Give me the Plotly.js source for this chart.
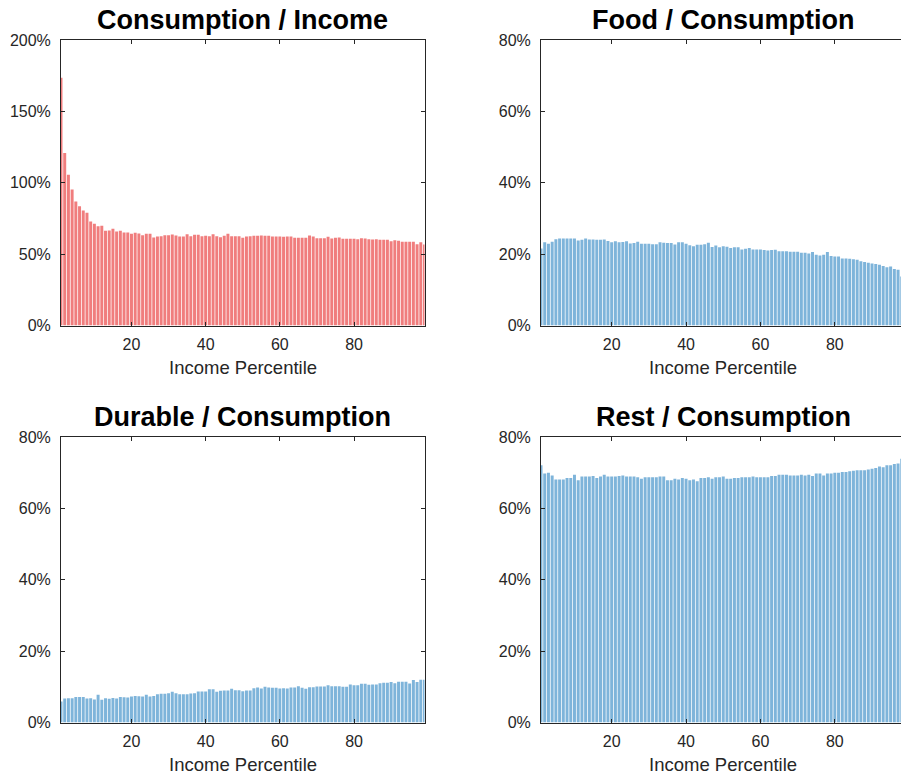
<!DOCTYPE html>
<html>
<head>
<meta charset="utf-8">
<script src="https://cdn.plot.ly/plotly-3.0.1.min.js"></script>
<style>
  html, body { margin: 0; padding: 0; overflow: hidden; background: #fff; }
  #chart { width: 910px; height: 776px; }
</style>
</head>
<body>
<div id="chart"></div>
<script>
// Income percentiles 1..99
const percentiles = Array.from({length: 99}, (_, i) => i + 1);

// Consumption as a share of income (%)
const consumptionIncome = [173.5, 120.8, 105.6, 95.3, 86.9, 83.6, 80.6, 79.0, 72.9, 71.2,
  69.6, 69.8, 66.3, 66.6, 67.7, 65.9, 66.3, 65.2, 65.2, 64.2,
  64.9, 64.5, 63.3, 64.2, 64.2, 61.7, 62.4, 62.6, 63.3, 63.3,
  63.8, 63.1, 62.4, 62.4, 64.0, 62.6, 63.5, 63.5, 62.6, 62.8,
  62.6, 64.0, 62.6, 61.9, 62.8, 64.2, 62.6, 62.6, 62.6, 61.4,
  62.4, 62.6, 62.8, 62.8, 63.1, 62.8, 62.8, 62.4, 62.4, 62.4,
  62.1, 62.4, 62.4, 61.4, 61.4, 61.4, 61.4, 63.1, 62.4, 61.2,
  61.2, 61.2, 62.1, 60.9, 61.4, 61.7, 60.7, 60.7, 60.7, 60.7,
  60.5, 61.2, 60.9, 60.5, 60.2, 60.5, 60.0, 60.0, 60.0, 59.1,
  59.8, 59.3, 58.6, 58.6, 58.6, 58.6, 57.0, 58.4, 56.8];

// Food as a share of consumption (%)
const foodConsumption = [21.6, 23.3, 22.9, 23.5, 24.2, 24.4, 24.4, 24.4, 24.4, 24.4,
  23.8, 24.0, 24.4, 24.1, 24.1, 24.05, 24.05, 24.1, 23.7, 23.3,
  23.6, 23.3, 23.4, 23.6, 23.0, 23.1, 23.5, 22.9, 22.9, 22.9,
  22.8, 22.8, 23.3, 23.2, 23.1, 23.1, 22.7, 23.3, 23.3, 22.9,
  22.5, 22.2, 22.65, 22.65, 22.8, 23.2, 22.0, 22.4, 21.9, 22.2,
  22.1, 21.7, 21.9, 21.9, 21.3, 21.5, 21.7, 21.3, 21.3, 21.3,
  21.15, 21.0, 21.15, 21.2, 20.8, 20.8, 20.8, 20.7, 20.7, 20.7,
  20.4, 20.4, 20.2, 20.6, 19.85, 19.6, 19.85, 20.6, 19.5, 19.3,
  19.3, 18.8, 18.8, 18.7, 18.55, 18.4, 18.0, 17.8, 17.6, 17.4,
  17.2, 17.05, 16.7, 16.3, 16.5, 15.8, 15.6, 13.7, 13.5];

// Durable goods as a share of consumption (%)
const durableConsumption = [5.87, 6.71, 6.81, 6.81, 7.18, 7.18, 7.18, 6.71, 6.81, 6.43,
  7.75, 6.34, 6.81, 6.62, 6.9, 6.71, 7.18, 7.09, 7.0, 7.28,
  7.46, 7.37, 7.28, 7.75, 7.28, 7.46, 7.93, 8.03, 8.03, 8.22,
  8.59, 8.22, 7.93, 7.93, 7.93, 8.12, 8.22, 8.69, 8.69, 8.69,
  9.34, 9.34, 8.59, 8.87, 8.97, 8.97, 9.44, 9.06, 9.06, 8.78,
  8.97, 8.97, 9.62, 9.81, 9.53, 10.0, 9.81, 9.72, 9.72, 9.53,
  9.62, 9.53, 9.81, 9.81, 10.19, 9.72, 9.44, 9.91, 9.91, 10.09,
  10.09, 10.09, 10.47, 10.19, 10.19, 10.19, 10.0, 10.0, 10.66, 10.47,
  10.47, 10.85, 10.85, 10.56, 10.66, 10.66, 11.03, 11.13, 11.13, 11.32,
  11.03, 11.41, 11.41, 11.41, 10.94, 11.88, 11.32, 11.97, 12.0];

// Everything else as a share of consumption (%)
const restConsumption = [72.05, 69.8, 70.0, 69.2, 68.1, 68.1, 68.1, 68.5, 68.5, 69.4,
  67.9, 68.9, 68.9, 68.9, 69.05, 68.5, 68.9, 69.4, 68.9, 68.9,
  68.9, 69.05, 69.2, 68.9, 68.9, 68.9, 68.7, 68.3, 68.7, 68.7,
  68.7, 68.7, 68.9, 68.9, 67.9, 67.9, 68.3, 68.1, 68.5, 68.3,
  67.9, 68.1, 67.6, 68.5, 68.5, 68.7, 68.3, 68.7, 68.7, 68.9,
  68.3, 68.3, 68.5, 68.5, 68.7, 68.7, 68.7, 68.9, 68.7, 68.7,
  68.7, 68.7, 69.05, 69.05, 69.4, 69.4, 69.4, 69.2, 69.2, 69.2,
  69.4, 69.2, 69.4, 69.05, 69.8, 69.8, 69.2, 69.8, 69.8, 70.0,
  70.0, 70.2, 70.2, 70.4, 70.55, 70.7, 70.7, 70.7, 70.9, 71.1,
  71.3, 71.7, 71.5, 72.05, 72.05, 72.4, 72.6, 73.9, 74.3];

// Panel titles, axis labels and ticks
const panelTitles = ['Consumption / Income', 'Food / Consumption',
                     'Durable / Consumption', 'Rest / Consumption'];
const xLabel = 'Income Percentile';
const xTicks = [20, 40, 60, 80];
const yTicksIncome = [0, 50, 100, 150, 200];
const yTicksShare = [0, 20, 40, 60, 80];

const W = 910, H = 776;
const RED = 'rgb(240,125,125)';
const BLUE = 'rgb(126,180,218)';
const INK = '#262626';
const FONT = 'Liberation Sans, Arial, Helvetica, sans-serif';

// pixel boxes of the four axes: [left, right, top, bottom]
const boxes = [
  [61, 424.5, 40, 325.5],
  [541, 905.5, 40, 325.5],
  [61, 424.5, 437, 722.5],
  [541, 905.5, 437, 722.5]
];

function xDomain(b) { return [b[0] / W, b[1] / W]; }
function yDomain(b) { return [(H - b[3]) / H, (H - b[2]) / H]; }

const series = [consumptionIncome, foodConsumption, durableConsumption, restConsumption];
const colors = [RED, BLUE, BLUE, BLUE];

const traces = series.map((vals, i) => ({
  type: 'bar',
  x: percentiles,
  y: vals,
  width: 0.8,
  marker: { color: colors[i], line: { width: 0 } },
  xaxis: i === 0 ? 'x' : 'x' + (i + 1),
  yaxis: i === 0 ? 'y' : 'y' + (i + 1),
  hoverinfo: 'x+y',
  showlegend: false
}));

const layout = {
  width: W,
  height: H,
  margin: { l: 0, r: 0, t: 0, b: 0 },
  paper_bgcolor: '#fff',
  plot_bgcolor: '#fff',
  showlegend: false,
  font: { family: FONT, color: INK, size: 16 },
  annotations: []
};

boxes.forEach((b, i) => {
  const sx = i === 0 ? '' : String(i + 1);
  const yticks = i === 0 ? yTicksIncome : yTicksShare;
  layout['xaxis' + sx] = {
    domain: xDomain(b),
    anchor: 'y' + sx,
    range: [1, 99],
    tickmode: 'array',
    tickvals: xTicks,
    ticktext: xTicks.map(String),
    ticks: 'inside',
    ticklen: 4,
    tickwidth: 1,
    tickcolor: INK,
    showline: true,
    linecolor: INK,
    linewidth: 1,
    mirror: 'ticks',
    showgrid: false,
    zeroline: false,
    tickfont: { family: FONT, size: 16, color: INK },
    ticklabelstandoff: 4,
    fixedrange: true
  };
  layout['yaxis' + sx] = {
    domain: yDomain(b),
    anchor: 'x' + sx,
    range: [0, yticks[yticks.length - 1]],
    tickmode: 'array',
    tickvals: yticks,
    ticktext: yticks.map(v => v + '%'),
    ticks: 'inside',
    ticklen: 4,
    tickwidth: 1,
    tickcolor: INK,
    showline: true,
    linecolor: INK,
    linewidth: 1,
    mirror: 'ticks',
    showgrid: false,
    zeroline: false,
    tickfont: { family: FONT, size: 16, color: INK },
    ticklabelstandoff: 6,
    fixedrange: true
  };
  const cx = (b[0] + b[1]) / 2 / W;
  // panel title
  layout.annotations.push({
    text: '<b>' + panelTitles[i] + '</b>',
    xref: 'paper', yref: 'paper',
    x: cx, y: (H - (b[2] - 20)) / H,
    xanchor: 'center', yanchor: 'middle',
    showarrow: false,
    font: { family: FONT, size: 27, color: '#000' }
  });
  // x-axis label
  layout.annotations.push({
    text: xLabel,
    xref: 'paper', yref: 'paper',
    x: cx, y: (H - (b[3] + 42)) / H,
    xanchor: 'center', yanchor: 'middle',
    showarrow: false,
    font: { family: FONT, size: 18.5, color: INK }
  });
});

Plotly.newPlot('chart', traces, layout, { displayModeBar: false, staticPlot: true });
</script>
</body>
</html>
